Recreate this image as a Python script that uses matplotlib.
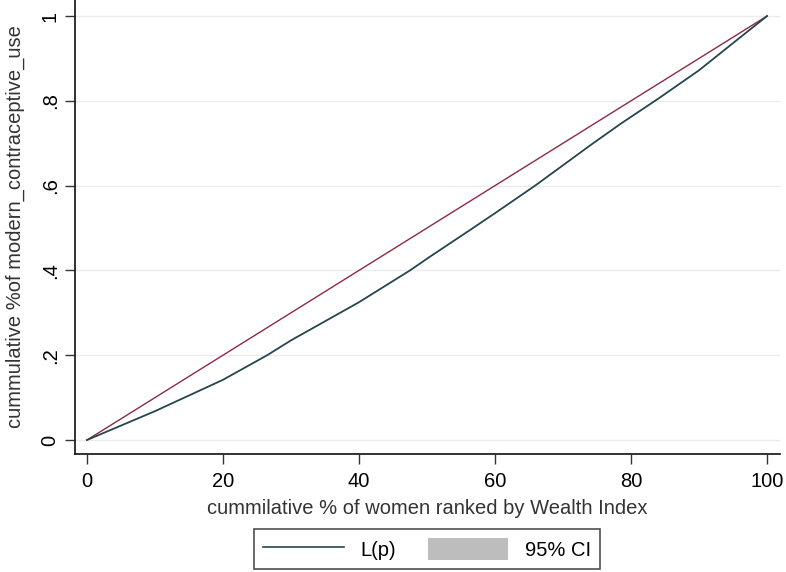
import matplotlib
matplotlib.use("Agg")
import matplotlib.pyplot as plt
from matplotlib.lines import Line2D
from matplotlib.patches import Patch

plt.rcParams['font.family'] = ['Liberation Sans', 'DejaVu Sans']

# Data
p_vals = [0, 10, 20, 26.5, 30, 40, 47.5, 50.4, 56.3, 60, 65.9, 70, 74, 78.4, 84, 90, 95.3, 100]
lp_vals = [0, 0.068, 0.142, 0.2, 0.235, 0.325, 0.4, 0.432, 0.495, 0.535, 0.6, 0.648, 0.695, 0.745, 0.805, 0.872, 0.94, 1.0]
eq_x = [0, 100]
eq_y = [0, 1]
x_ticks = [0, 20, 40, 60, 80, 100]
x_ticklabels = ["0", "20", "40", "60", "80", "100"]
y_ticks = [0, 0.2, 0.4, 0.6, 0.8, 1.0]
y_ticklabels = ["0", ".2", ".4", ".6", ".8", "1"]

fig = plt.figure(figsize=(7.86, 5.72), dpi=100)
ax = fig.add_axes([75/786, (572-454)/572, (780-75)/786, 454/572])

curve_color = "#26454d"
eq_color = "#8c2a45"

ax.plot(eq_x, eq_y, color=eq_color, lw=1.0, zorder=3)
ax.plot(p_vals, lp_vals, color=curve_color, lw=1.3, zorder=4)

ax.set_xlim(-1.76, 101.9)
ax.set_ylim(-0.033, 1.0377)
ax.set_xticks(x_ticks)
ax.set_xticklabels(x_ticklabels, fontsize=14.5)
ax.set_yticks(y_ticks)
ax.set_yticklabels(y_ticklabels, fontsize=14.5, rotation=90, va='center')
ax.tick_params(axis='both', direction='out', length=7, width=1, color='#333333')
ax.tick_params(axis='y', pad=4)
ax.tick_params(axis='x', pad=6)

ax.grid(axis='y', color='#ececec', lw=1)
ax.set_axisbelow(True)
for s in ['top', 'right']:
    ax.spines[s].set_visible(False)
for s in ['left', 'bottom']:
    ax.spines[s].set_color('#222222')
    ax.spines[s].set_linewidth(1.3)

ax.set_xlabel("cummilative % of women ranked by Wealth Index", fontsize=14.5, color='#333333')
ax.set_ylabel("cummulative %of modern_contraceptive_use", fontsize=14.5, color='#333333')
ax.xaxis.set_label_coords(0.5, -(508-454)/454, transform=ax.transAxes)
ax.yaxis.set_label_coords((15-75)/705, 0.5, transform=ax.transAxes)
ax.xaxis.label.set_va('center')
ax.yaxis.label.set_va('center')

handles = [Line2D([0], [0], color=curve_color, lw=1.2),
           Patch(facecolor='#bdbdbd', edgecolor='none')]
leg = fig.legend(handles, ["L(p)", "95% CI"], loc='center', bbox_to_anchor=(427/786, 1 - 549/572),
                 ncol=2, frameon=True, fancybox=False, fontsize=14.5, handlelength=4.0,
                 handleheight=1.3, columnspacing=1.6, borderpad=0.45, edgecolor='#222222')
leg.get_frame().set_linewidth(1.2)

fig.savefig("out.png", dpi=100)
